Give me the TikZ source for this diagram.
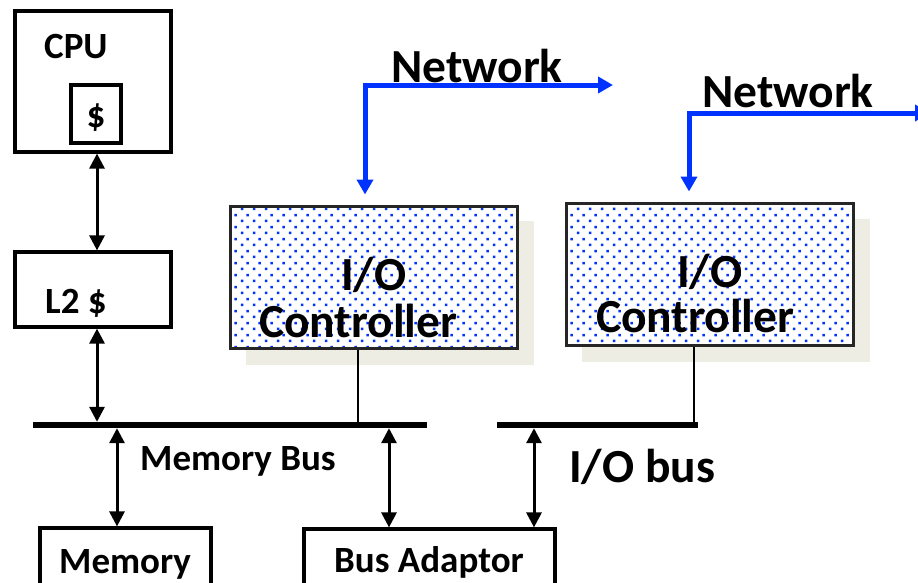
\documentclass[tikz,border=0pt]{standalone}
\usepackage{fontspec}
\setmainfont{Carlito}
\usetikzlibrary{arrows.meta,patterns.meta}

\definecolor{netblue}{RGB}{0,51,255}
\definecolor{shadowtan}{RGB}{238,237,228}

% staggered blue dot texture for the I/O controllers
\tikzdeclarepattern{
  name=bluedots,
  type=uncolored,
  bottom left={(0pt,0pt)},
  top right={(12pt,12pt)},
  tile size={(12pt,12pt)},
  code={
    \fill (1pt,1pt) rectangle (3.7pt,3.7pt);
    \fill (7pt,7pt) rectangle (9.7pt,9.7pt);
  }
}

\tikzset{
  unit/.style={draw=black, line width=3.2pt, rectangle, inner sep=0pt},
  ctrl/.style={draw=black!85, line width=3pt, rectangle, inner sep=0pt,
    minimum width=287pt, minimum height=142pt,
    preaction={fill=white}, pattern=bluedots, pattern color=netblue},
  busbar/.style={fill=black, rectangle, inner sep=0pt, minimum height=6pt},
  arr/.style={line width=3pt, arrows={Triangle[length=15pt,width=15pt]-Triangle[length=15pt,width=15pt]}},
  netarr/.style={draw=netblue, line width=5pt, line join=miter,
    arrows={Triangle[length=15pt,width=16pt]-Triangle[length=15pt,width=16pt]}},
  tap/.style={line width=2.5pt},
  txt/.style={inner sep=0pt, anchor=base west, font=\bfseries\fontsize{37}{42}\selectfont},
  bigtxt/.style={inner sep=0pt, anchor=base west, font=\bfseries\fontsize{47.5}{52}\selectfont},
}

\begin{document}
\begin{tikzpicture}[x=1pt, y=-1pt]
\useasboundingbox (0,0) rectangle (918,582);
\clip (0,0) rectangle (918,582);

% processor side
\node[unit, minimum width=156pt, minimum height=141pt] (cpu) at (93,81.5) {};
\node[unit, minimum width=50pt, minimum height=58pt] (cache) at (96,114) {};
\node[txt] (cpulbl) at (44,58) {CPU};
\node[txt, anchor=base] (cachelbl) at (96,127) {\$};
\node[unit, minimum width=156pt, minimum height=75pt] (l2) at (93,289.5) {};
\node[txt] (l2lbl) at (45,313) {L2 \$};

% buses
\node[busbar, minimum width=394pt] (mbus) at (230,425) {};
\node[busbar, minimum width=201pt] (iobus) at (597.5,425) {};
\node[txt] (mbuslbl) at (140,470) {Memory Bus};
\node[bigtxt] (iobuslbl) at (569,482) {I/O bus};

% memory and bus adaptor
\node[unit, minimum width=171pt, minimum height=90pt] (mem) at (125.5,573) {};
\node[txt] (memlbl) at (59,573) {Memory};
\node[unit, minimum width=251pt, minimum height=90pt] (adapt) at (429.5,574) {};
\node[txt] (adaptlbl) at (334,572) {Bus Adaptor};

% I/O controllers with their drop shadows
\fill[shadowtan] (246,221) rectangle (534,365);
\node[ctrl] (c1) at (373.5,277) {};
\node[bigtxt] (c1a) at (341,290) {I/O};
\node[bigtxt] (c1b) at (259,337) {Controller};

\fill[shadowtan] (582,219) rectangle (870,362);
\node[ctrl] (c2) at (709.5,274) {};
\node[bigtxt] (c2a) at (677,287) {I/O};
\node[bigtxt] (c2b) at (596,332) {Controller};

% network links
\coordinate (n1in) at ([xshift=-8.5pt,yshift=10pt]c1.north);
\coordinate (n1out) at (613,85);
\draw[netarr] (n1in) |- (n1out);
\node[bigtxt] (n1lbl) at (391,82) {Network};

\coordinate (n2in) at ([xshift=-20.5pt,yshift=10pt]c2.north);
\coordinate (n2out) at (930,113);
\draw[netarr] (n2in) |- (n2out);
\node[bigtxt] (n2lbl) at (702,107) {Network};

% processor-to-bus connections
\coordinate (tcpu) at ([xshift=4pt]cpu.south);
\draw[arr] (tcpu) -- (tcpu |- l2.north);
\coordinate (tl2) at ([xshift=4pt]l2.south);
\draw[arr] (tl2) -- (tl2 |- mbus.north);

% memory bus to memory and adaptor
\coordinate (tmem) at ([xshift=-8.5pt]mem.north);
\draw[arr] (tmem |- mbus.south) -- (tmem);
\coordinate (tad1) at ([xshift=-40.5pt]adapt.north);
\draw[arr] (tad1 |- mbus.south) -- (tad1);
\coordinate (tad2) at ([xshift=104.5pt]adapt.north);
\draw[arr] (tad2 |- iobus.south) -- (tad2);

% controller taps onto the buses
\coordinate (tc1) at ([xshift=-15.5pt]c1.south);
\draw[tap] (tc1) -- (tc1 |- mbus.north);
\coordinate (tc2) at ([xshift=-15.5pt]c2.south);
\draw[tap] (tc2) -- (tc2 |- iobus.north);
\end{tikzpicture}
\end{document}
